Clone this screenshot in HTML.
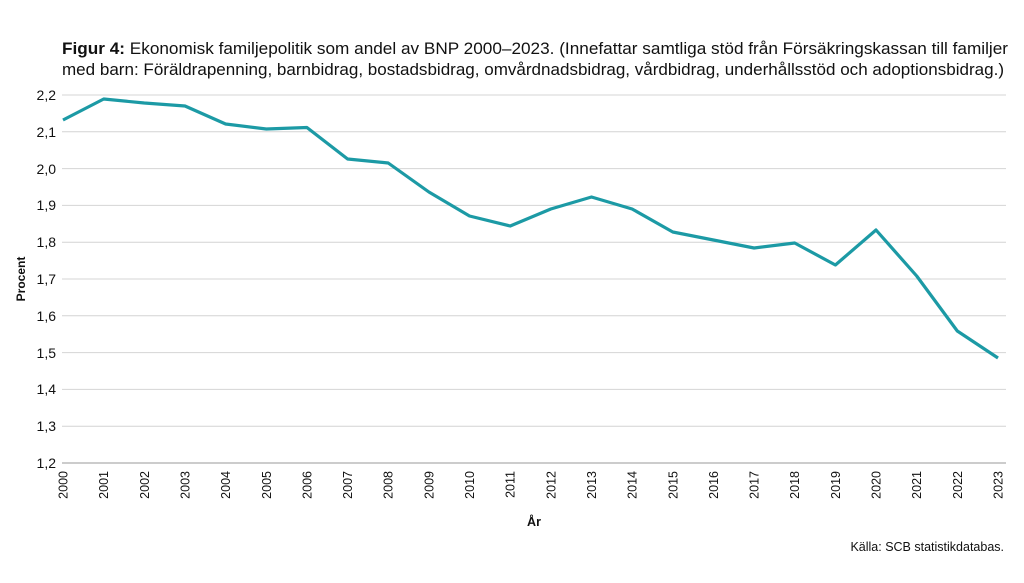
<!DOCTYPE html>
<html><head><meta charset="utf-8"><style>
body{margin:0;background:#fff;width:1024px;height:578px;overflow:hidden;font-family:"Liberation Sans",sans-serif;}
</style></head><body>
<svg width="1024" height="578" xmlns="http://www.w3.org/2000/svg" font-family="Liberation Sans, sans-serif">
<text x="62" y="54" font-size="17" fill="#111" textLength="946" lengthAdjust="spacingAndGlyphs"><tspan font-weight="bold">Figur 4:</tspan> Ekonomisk familjepolitik som andel av BNP 2000–2023. (Innefattar samtliga stöd från Försäkringskassan till familjer</text>
<text x="62" y="75" font-size="17" fill="#111" textLength="942" lengthAdjust="spacingAndGlyphs">med barn: Föräldrapenning, barnbidrag, bostadsbidrag, omvårdnadsbidrag, vårdbidrag, underhållsstöd och adoptionsbidrag.)</text>
<g stroke="#d4d4d4" stroke-width="1">
<line x1="62" x2="1006" y1="95" y2="95"/><line x1="62" x2="1006" y1="131.8" y2="131.8"/><line x1="62" x2="1006" y1="168.6" y2="168.6"/><line x1="62" x2="1006" y1="205.4" y2="205.4"/><line x1="62" x2="1006" y1="242.2" y2="242.2"/><line x1="62" x2="1006" y1="279" y2="279"/><line x1="62" x2="1006" y1="315.8" y2="315.8"/><line x1="62" x2="1006" y1="352.6" y2="352.6"/><line x1="62" x2="1006" y1="389.4" y2="389.4"/><line x1="62" x2="1006" y1="426.2" y2="426.2"/>
</g>
<line x1="62" x2="1006" y1="463" y2="463" stroke="#999"/>
<g font-size="14" fill="#111" text-anchor="end">
<text x="56" y="100">2,2</text><text x="56" y="137">2,1</text><text x="56" y="174">2,0</text><text x="56" y="210">1,9</text><text x="56" y="247">1,8</text><text x="56" y="284">1,7</text><text x="56" y="321">1,6</text><text x="56" y="358">1,5</text><text x="56" y="394">1,4</text><text x="56" y="431">1,3</text><text x="56" y="468">1,2</text>
</g>
<text transform="translate(25,279) rotate(-90)" font-size="12" font-weight="bold" text-anchor="middle" fill="#111">Procent</text>
<g font-size="12.5" fill="#111" text-anchor="end">
<text transform="translate(67.5,471) rotate(-90)">2000</text><text transform="translate(108.2,471) rotate(-90)">2001</text><text transform="translate(148.8,471) rotate(-90)">2002</text><text transform="translate(189.5,471) rotate(-90)">2003</text><text transform="translate(230.1,471) rotate(-90)">2004</text><text transform="translate(270.8,471) rotate(-90)">2005</text><text transform="translate(311.4,471) rotate(-90)">2006</text><text transform="translate(352.1,471) rotate(-90)">2007</text><text transform="translate(392.7,471) rotate(-90)">2008</text><text transform="translate(433.4,471) rotate(-90)">2009</text><text transform="translate(474,471) rotate(-90)">2010</text><text transform="translate(514.7,471) rotate(-90)">2011</text><text transform="translate(555.3,471) rotate(-90)">2012</text><text transform="translate(596,471) rotate(-90)">2013</text><text transform="translate(636.6,471) rotate(-90)">2014</text><text transform="translate(677.3,471) rotate(-90)">2015</text><text transform="translate(717.9,471) rotate(-90)">2016</text><text transform="translate(758.6,471) rotate(-90)">2017</text><text transform="translate(799.2,471) rotate(-90)">2018</text><text transform="translate(839.9,471) rotate(-90)">2019</text><text transform="translate(880.5,471) rotate(-90)">2020</text><text transform="translate(921.2,471) rotate(-90)">2021</text><text transform="translate(961.8,471) rotate(-90)">2022</text><text transform="translate(1002.5,471) rotate(-90)">2023</text>
</g>
<text x="534" y="526" font-size="12.5" font-weight="bold" text-anchor="middle" fill="#111">År</text>
<text x="1004" y="551" font-size="12.5" text-anchor="end" fill="#111">Källa: SCB statistikdatabas.</text>
<polyline fill="none" stroke="#1c9aa5" stroke-width="3.2" stroke-linejoin="round" points="63,120 103.7,99 144.3,103 185,106 225.6,124 266.3,129 306.9,127.5 347.6,159 388.2,163 428.9,192 469.5,216 510.2,226 550.8,209 591.5,197 632.1,209 672.8,232 713.4,240 754.1,248 794.7,243 835.4,265 876,230 916.7,276 957.3,331 998,358"/>
</svg>
</body></html>
